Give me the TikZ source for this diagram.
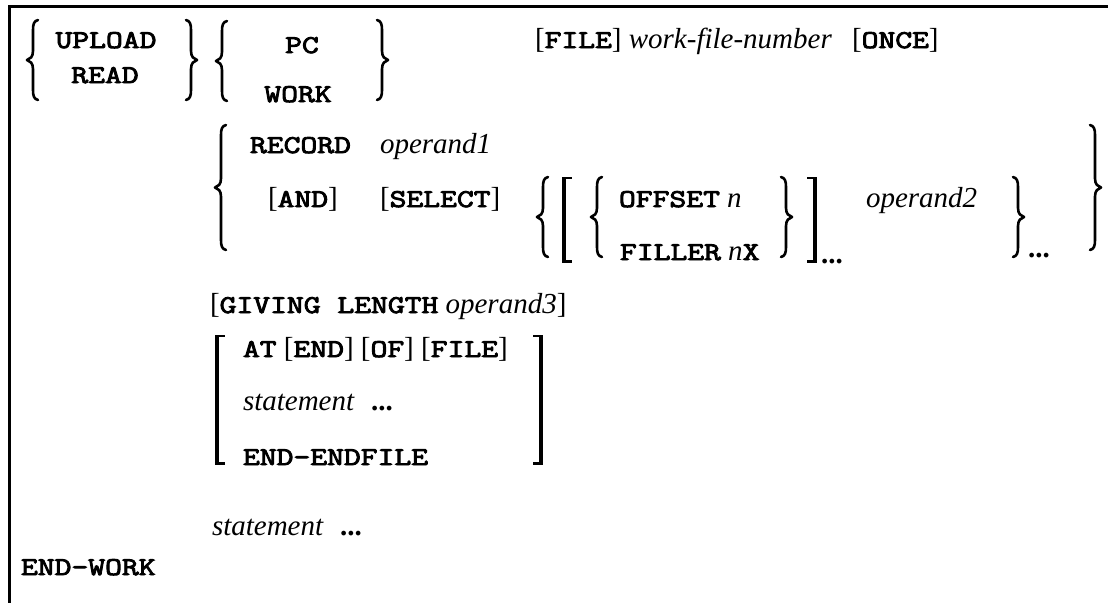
\documentclass[tikz,border=0pt]{standalone}
\usepackage{fontspec}
\setmainfont{Liberation Serif}
\newfontfamily\kwfont{Latin Modern Mono}[FakeStretch=1.28,Scale=0.88,FakeBold=3.6]
\newcommand\kw[1]{{\kwfont #1}}
\newcommand\op[1]{\textit{#1}}
\newcommand\dts{{\bfseries ...}}
\tikzset{
  txt/.style={inner sep=0pt, outer sep=0pt, anchor=base west, font=\fontsize{29}{33}\selectfont},
  ctxt/.style={txt, anchor=base},
  bracestyle/.style={line width=2.6pt, line cap=round, line join=round},
  framestyle/.style={line width=3pt}
}
\newcommand\mylbrace[3]{%
  \pgfmathsetmacro\mym{(#2+#3)/2}%
  \draw[bracestyle] ({#1+11},{#2}) .. controls ({#1+7},{#2+1}) and ({#1+6},{#2+4}) .. ({#1+6},{#2+10})
     -- ({#1+6},{\mym-9}) .. controls ({#1+6},{\mym-3}) and ({#1+3},{\mym-1}) .. ({#1},{\mym})
     .. controls ({#1+3},{\mym+1}) and ({#1+6},{\mym+3}) .. ({#1+6},{\mym+9})
     -- ({#1+6},{#3-10}) .. controls ({#1+6},{#3-4}) and ({#1+7},{#3-1}) .. ({#1+11},{#3});}
\newcommand\myrbrace[3]{%
  \pgfmathsetmacro\mym{(#2+#3)/2}%
  \draw[bracestyle] ({#1},{#2}) .. controls ({#1+4},{#2+1}) and ({#1+5},{#2+4}) .. ({#1+5},{#2+10})
     -- ({#1+5},{\mym-9}) .. controls ({#1+5},{\mym-3}) and ({#1+8},{\mym-1}) .. ({#1+11},{\mym})
     .. controls ({#1+8},{\mym+1}) and ({#1+5},{\mym+3}) .. ({#1+5},{\mym+9})
     -- ({#1+5},{#3-10}) .. controls ({#1+5},{#3-4}) and ({#1+4},{#3-1}) .. ({#1},{#3});}
\newcommand\mylbrack[3]{%
  \fill ({#1},{#2}) rectangle ({#1+4},{#3});
  \fill ({#1},{#2}) rectangle ({#1+10},{#2+2});
  \fill ({#1},{#3-3}) rectangle ({#1+10},{#3});}
\newcommand\myrbrack[3]{%
  \fill ({#1+6},{#2}) rectangle ({#1+10},{#3});
  \fill ({#1},{#2}) rectangle ({#1+10},{#2+2});
  \fill ({#1},{#3-3}) rectangle ({#1+10},{#3});}
\begin{document}
\begin{tikzpicture}[x=1pt,y=-1pt]
\useasboundingbox (0,0) rectangle (1108,603);
% frame
\draw[framestyle] (8,6.5) -- (1108,6.5);
\draw[framestyle] (9.5,5) -- (9.5,603);
% row 1
\mylbrace{27}{20}{100}
\node[ctxt] (upload) at (106,48) {\kw{UPLOAD}};
\node[ctxt] (read) at (105,83) {\kw{READ}};
\myrbrace{186}{20}{100}
\mylbrace{216}{21}{101}
\node[ctxt] (pc) at (302,53) {\kw{PC}};
\node[ctxt] (work) at (298,102) {\kw{WORK}};
\myrbrace{377}{20}{100}
\node[txt] (file) at (535,48) {[\kw{FILE}] \op{work-file-number}};
\node[txt] (once) at (852,48) {[\kw{ONCE}]};
% row 2
\mylbrace{215}{125}{250}
\node[txt] (record) at (250,153) {\kw{RECORD}};
\node[txt] (op1) at (380,153) {\op{operand1}};
\node[txt] (and) at (268,207) {[\kw{AND}]};
\node[txt] (select) at (380,207) {[\kw{SELECT}]};
\mylbrace{537}{177}{257}
\mylbrack{562}{177}{263}
\mylbrace{591}{177}{257}
\node[txt] (offset) at (619,207) {\kw{OFFSET} \op{n}};
\node[txt] (filler) at (620,260) {\kw{FILLER} \op{n}\kw{X}};
\myrbrace{781}{177}{257}
\myrbrack{807}{177}{263}
\node[txt] (dots1) at (821,263) {\dts};
\node[txt] (op2) at (866,207) {\op{operand2}};
\myrbrace{1013}{177}{257}
\node[txt] (dots2) at (1028,257) {\dts};
\myrbrace{1090}{125}{250}
% giving
\node[txt] (giving) at (210,313) {[\kw{GIVING LENGTH} \op{operand3}]};
% at end
\mylbrack{215}{335}{465}
\node[txt] (at) at (243,357) {\kw{AT} [\kw{END}] [\kw{OF}] [\kw{FILE}]};
\node[txt] (stmt1) at (243,410) {\op{statement}};
\node[txt] (dots3) at (371,410) {\dts};
\node[txt] (endendfile) at (243,465) {\kw{END-ENDFILE}};
\myrbrack{533}{335}{465}
% statement
\node[txt] (stmt2) at (212,535) {\op{statement}};
\node[txt] (dots4) at (340,535) {\dts};
\node[txt] (endwork) at (21,575) {\kw{END-WORK}};
\end{tikzpicture}
\end{document}
